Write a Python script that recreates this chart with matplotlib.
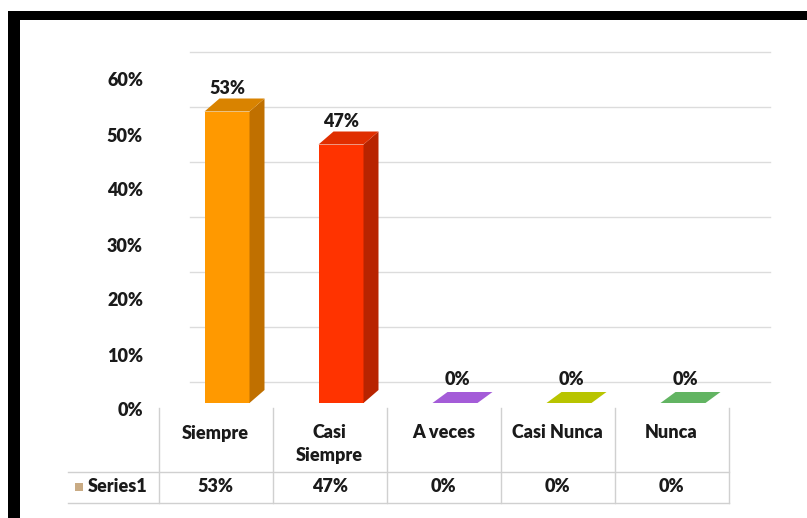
import matplotlib.pyplot as plt
from matplotlib.patches import Rectangle, Polygon
from matplotlib.transforms import blended_transform_factory

plt.rcParams['font.family'] = ['Lato', 'DejaVu Sans']

categories = ['Siempre', 'Casi\nSiempre', 'A veces', 'Casi Nunca', 'Nunca']
values = [53, 47, 0, 0, 0]
value_labels = ['53%', '47%', '0%', '0%', '0%']
y_ticks = [0, 10, 20, 30, 40, 50, 60]
series_name = 'Series1'

front_cols = ['#FF9900', '#FF3300', '#9B4FD0', '#C4CC00', '#6BBF6B']
side_cols = ['#C07000', '#B82400', '#7A38A8', '#98A000', '#4E9A4E']
top_cols = ['#D98300', '#E02E00', '#A45CD8', '#B8C400', '#62B462']

W, H = 807, 518
FS = 13
FW = 'heavy'
fig = plt.figure(figsize=(W / 100, H / 100), dpi=100)


def fx(px):
    return px / W


def fy(py):
    return 1 - py / H


# axes: pixel 160..775 horizontally, floor (0%) at 403, top at 40
ax = fig.add_axes([fx(160), fy(403), fx(775) - fx(160), fy(40) - fy(403)])
ppx = 114.0   # pixels per category
ppy = 5.5     # pixels per percent
x0 = -(227 - 160) / ppx
ax.set_xlim(x0, x0 + 615 / ppx)
ax.set_ylim(0, 363 / ppy)
ax.axis('off')

w = 45 / ppx
dx = 15 / ppx
dy = 13 / ppy

# back wall gridlines (shifted up by the 3D depth)
g_off = 21 / ppy
for t in y_ticks:
    ax.plot([(190 - 227) / ppx, (770 - 227) / ppx], [t + g_off, t + g_off],
            color='#dcdcdc', lw=1, zorder=1, clip_on=False)

# 3D-looking bars
for i, v in enumerate(values):
    d_y = dy if v > 0 else 11 / ppy
    l, r = i - w / 2, i + w / 2
    if v > 0:
        ax.add_patch(Rectangle((l, 0), w, v, facecolor=front_cols[i],
                               edgecolor='none', zorder=3))
        ax.add_patch(Polygon([(r, 0), (r + dx, d_y), (r + dx, v + d_y), (r, v)],
                             closed=True, facecolor=side_cols[i],
                             edgecolor='none', zorder=3))
    ax.add_patch(Polygon([(l, v), (r, v), (r + dx, v + d_y), (l + dx, v + d_y)],
                         closed=True, facecolor=top_cols[i],
                         edgecolor='none', zorder=4, clip_on=False))
    ax.text(i + (0 if v > 0 else 0.02), v + d_y + (1.8 if v > 0 else 2.2),
            value_labels[i], ha='center', va='center', fontsize=FS,
            fontweight=FW, color='#1a1a1a', zorder=5)

# y tick labels (aligned with front floor edge)
ytr = blended_transform_factory(fig.transFigure, ax.transData)
for t in y_ticks:
    ax.text(fx(143), t - 8 / ppy, '%d%%' % t, transform=ytr, ha='right',
            va='center', fontsize=FS, fontweight=FW, color='#1a1a1a')

# data table below the chart
ttr = blended_transform_factory(ax.transData, fig.transFigure)
grid_c = '#d0d0d0'
for k in range(len(categories) + 1):
    xl = k - 0.6
    ax.plot([xl, xl], [fy(408), fy(503)], transform=ttr, color=grid_c,
            lw=1, clip_on=False)
ax.plot([(68 - 227) / ppx, len(categories) - 0.6], [fy(472), fy(472)],
        transform=ttr, color=grid_c, lw=1, clip_on=False)
ax.plot([(68 - 227) / ppx, len(categories) - 0.6], [fy(503), fy(503)],
        transform=ttr, color=grid_c, lw=1, clip_on=False)

for i, c in enumerate(categories):
    ax.text(i - 0.1, fy(444) if '\n' in c else fy(433), c, transform=ttr,
            ha='center', va='center', fontsize=FS, fontweight=FW,
            color='#1a1a1a', linespacing=1.45)
    ax.text(i - 0.1, fy(487), value_labels[i], transform=ttr, ha='center',
            va='center', fontsize=FS, fontweight=FW, color='#1a1a1a')

fig.patches.append(Rectangle((fx(75), fy(491)), fx(8), 8 / H, facecolor='#C9AB84',
                             edgecolor='none', transform=fig.transFigure))
fig.text(fx(88), fy(487), series_name, ha='left', va='center', fontsize=FS,
         fontweight=FW, color='#1a1a1a')

# black frame (left and top edges visible)
fig.patches.append(Rectangle((fx(8), 0), fx(12), fy(11), facecolor='black',
                             edgecolor='none', transform=fig.transFigure))
fig.patches.append(Rectangle((fx(8), fy(20)), 1, 9 / H, facecolor='black',
                             edgecolor='none', transform=fig.transFigure))

fig.savefig('out.png', dpi=100)
